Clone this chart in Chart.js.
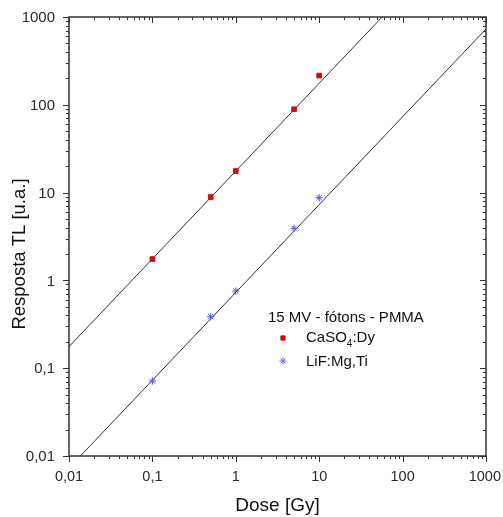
<!DOCTYPE html>
<html>
<head>
<meta charset="utf-8">
<script src="https://cdn.jsdelivr.net/npm/chart.js@4/dist/chart.umd.min.js"></script>
<style>
html, body { margin: 0; padding: 0; background: #fff; }
#wrap { width: 503px; height: 517px; }
</style>
</head>
<body>
<div id="wrap"><canvas id="chart" width="503" height="517"></canvas></div>
<script>
// dados
const doses = [0.1, 0.5, 1, 5, 10];
const caso4 = [1.75, 8.9, 17.6, 89, 215];
const lif = [0.0715, 0.386, 0.757, 3.92, 8.75];

// retas de ajuste (extremos)
const fitCaX = [0.01, 56.8];
const fitCaY = [0.176, 1000];
const fitLiX = [0.0137, 1000];
const fitLiY = [0.01, 730];

const decades = [0.01, 0.1, 1, 10, 100, 1000];

const FONT = 'Liberation Sans, Arial, sans-serif';
const fmt = v => String(v).replace('.', ',');

// moldura, ticks, rótulos, títulos e legenda
const frame = {
    id: 'frame',
    afterDraw(chart) {
        const { ctx, chartArea: a, scales: { x, y } } = chart;
        ctx.save();
        ctx.strokeStyle = '#333';
        ctx.lineWidth = 1.5;
        ctx.strokeRect(a.left, a.top, a.right - a.left, a.bottom - a.top);

        ctx.lineWidth = 1;
        ctx.beginPath();
        decades.forEach(d => {
            for (let m = 1; m <= 9; m++) {
                const v = d * m;
                if (v > 1000.0001) break;
                const len = m === 1 ? 6 : 3;
                const px = Math.round(x.getPixelForValue(v)) + 0.5;
                ctx.moveTo(px, a.bottom); ctx.lineTo(px, a.bottom + len);
                ctx.moveTo(px, a.top); ctx.lineTo(px, a.top + len);
                const py = Math.round(y.getPixelForValue(v)) + 0.5;
                ctx.moveTo(a.left - len, py); ctx.lineTo(a.left, py);
                ctx.moveTo(a.right - len, py); ctx.lineTo(a.right, py);
            }
        });
        ctx.stroke();

        // rótulos dos ticks
        ctx.fillStyle = '#2a2a2a';
        ctx.textBaseline = 'middle';
        ctx.font = '14.5px ' + FONT;
        ctx.textAlign = 'center';
        decades.forEach(v => {
            const t = fmt(v);
            const w = ctx.measureText(t).width;
            let px = x.getPixelForValue(v);
            if (px + w / 2 > 501) px = 501 - w / 2;
            ctx.fillText(t, px, a.bottom + 21);
        });
        ctx.font = '15px ' + FONT;
        ctx.textAlign = 'right';
        decades.forEach(v => {
            ctx.fillText(fmt(v), a.left - 14, y.getPixelForValue(v) + 1);
        });

        // títulos dos eixos
        ctx.fillStyle = '#111';
        ctx.font = '19px ' + FONT;
        ctx.textAlign = 'center';
        ctx.fillText('Dose [Gy]', (a.left + a.right) / 2, 506);
        ctx.save();
        ctx.translate(20, 254);
        ctx.rotate(-Math.PI / 2);
        ctx.font = '18.5px ' + FONT;
        ctx.fillText('Resposta TL [u.a.]', 0, 0);
        ctx.restore();

        // legenda
        ctx.textAlign = 'left';
        ctx.font = '15px ' + FONT;
        ctx.fillText('15 MV - fótons - PMMA', 268, 318);
        ctx.fillText('CaSO', 306, 338);
        const w = ctx.measureText('CaSO').width;
        ctx.font = '10px ' + FONT;
        ctx.fillText('4', 306 + w, 344);
        const w4 = ctx.measureText('4').width;
        ctx.font = '15px ' + FONT;
        ctx.fillText(':Dy', 306 + w + w4, 338);
        ctx.fillText('LiF:Mg,Ti', 306, 362);

        ctx.fillStyle = '#e00000';
        ctx.strokeStyle = '#e00000';
        Chart.helpers.drawPoint(ctx, { pointStyle: 'rect', radius: 3, borderWidth: 1 }, 283, 338);
        ctx.strokeStyle = '#6a6af0';
        Chart.helpers.drawPoint(ctx, { pointStyle: 'star', radius: 3.5, borderWidth: 1 }, 283, 361);
        ctx.restore();
    }
};

const ctx = document.getElementById('chart').getContext('2d');
new Chart(ctx, {
    type: 'scatter',
    data: {
        datasets: [
            {
                label: 'CaSO4:Dy',
                data: doses.map((d, i) => ({ x: d, y: caso4[i] })),
                pointStyle: 'rect',
                pointRadius: 3.3,
                backgroundColor: '#c81010',
                borderColor: '#c81010',
                borderWidth: 1,
                order: 0
            },
            {
                label: 'LiF:Mg,Ti',
                data: doses.map((d, i) => ({ x: d, y: lif[i] })),
                pointStyle: 'star',
                pointRadius: 3.6,
                borderColor: '#5555d8',
                backgroundColor: '#5555d8',
                borderWidth: 1,
                order: 0
            },
            {
                label: 'ajuste CaSO4',
                data: fitCaX.map((v, i) => ({ x: v, y: fitCaY[i] })),
                showLine: true,
                pointRadius: 0,
                borderColor: '#333',
                borderWidth: 1,
                order: 1
            },
            {
                label: 'ajuste LiF',
                data: fitLiX.map((v, i) => ({ x: v, y: fitLiY[i] })),
                showLine: true,
                pointRadius: 0,
                borderColor: '#333',
                borderWidth: 1,
                order: 1
            }
        ]
    },
    options: {
        responsive: false,
        animation: false,
        layout: { padding: { top: 17, right: 17, left: 0, bottom: 0 } },
        plugins: {
            legend: { display: false },
            tooltip: { enabled: false }
        },
        scales: {
            x: {
                type: 'logarithmic',
                min: 0.01,
                max: 1000,
                grid: { display: false },
                border: { display: false },
                ticks: { display: false },
                afterFit: s => { s.height = 61; }
            },
            y: {
                type: 'logarithmic',
                min: 0.01,
                max: 1000,
                grid: { display: false },
                border: { display: false },
                ticks: { display: false },
                afterFit: s => { s.width = 69; }
            }
        }
    },
    plugins: [frame]
});
</script>
</body>
</html>
